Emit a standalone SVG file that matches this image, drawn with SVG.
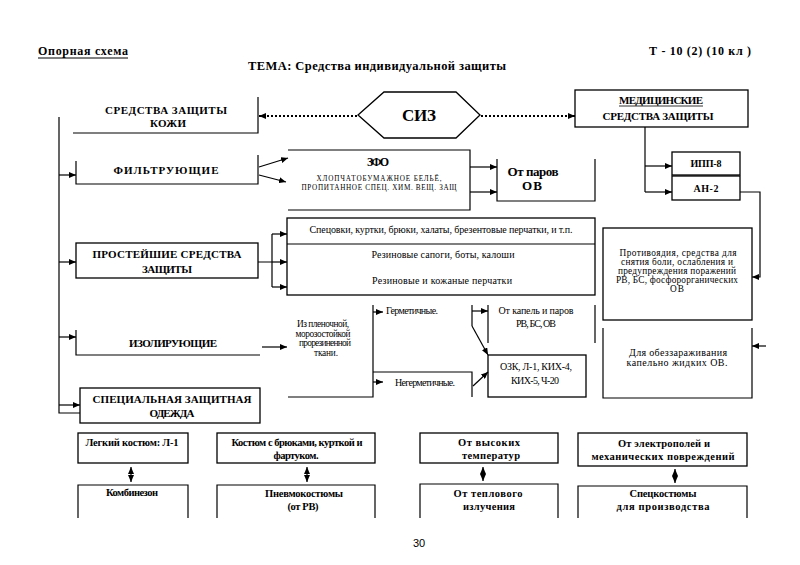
<svg xmlns="http://www.w3.org/2000/svg" width="800" height="565" viewBox="0 0 800 565">
<defs>
<marker id="ah" markerWidth="7" markerHeight="6" refX="7" refY="3" orient="auto-start-reverse" markerUnits="userSpaceOnUse">
<path d="M0,0 L7,3 L0,6 z" fill="#000"/>
</marker>
<style>
.t{font-family:"Liberation Serif","DejaVu Serif","Times New Roman",serif;fill:#000;text-anchor:middle}
.b{font-weight:bold}
.cap{font-size:11px;font-weight:bold}
.sm{font-size:10px}
.xs{font-size:9.3px}
.bt{font-size:10.5px;font-weight:bold}
.bx{fill:none;stroke:#000;stroke-width:1.3}
.ln{fill:none;stroke:#000;stroke-width:1.2}
.ar{fill:none;stroke:#000;stroke-width:1.2;marker-end:url(#ah)}
.da{fill:none;stroke:#000;stroke-width:1.2;marker-start:url(#ah);marker-end:url(#ah)}
.dot{fill:none;stroke:#000;stroke-width:1.8;stroke-dasharray:2,2;marker-end:url(#ah)}
</style>
</defs>
<rect width="800" height="565" fill="#fff"/>

<g id="header">
<text class="t b" x="83" y="55" font-size="12" textLength="90">Опорная схема</text>
<line x1="38" y1="58" x2="128" y2="58" stroke="#000" stroke-width="1"/>
<text class="t b" x="700" y="55" font-size="12" textLength="102">Т - 10 (2) (10 кл )</text>
<text class="t b" x="377" y="70" font-size="12.5" textLength="258">ТЕМА: Средства индивидуальной защиты</text>
</g>

<g id="skin">
<path class="ln" d="M73,133 H258 V97"/>
<text class="t cap" x="166" y="114" textLength="122">СРЕДСТВА ЗАЩИТЫ</text>
<text class="t cap" x="168" y="127" textLength="36">КОЖИ</text>
</g>

<g id="siz">
<polygon class="bx" points="358,115 384,92 456,92 480,115 456,138 384,138"/>
<text class="t b" x="419" y="121" font-size="17" textLength="34">СИЗ</text>
</g>

<g id="medical">
<rect class="bx" x="575" y="90" width="173" height="37"/>
<text class="t cap" x="661" y="104" textLength="84">МЕДИЦИНСКИЕ</text>
<line x1="619" y1="106" x2="703" y2="106" stroke="#000" stroke-width="0.8"/>
<text class="t cap" x="658" y="120" textLength="111">СРЕДСТВА ЗАЩИТЫ</text>
</g>

<g id="ipp8">
<rect class="bx" x="672" y="152" width="68" height="23"/>
<text class="t b" x="706" y="167" font-size="10" textLength="31">ИПП-8</text>
</g>

<g id="an2">
<rect class="bx" x="672" y="176" width="68" height="24"/>
<text class="t b" x="706" y="192" font-size="10" textLength="25">АН-2</text>
</g>

<g id="filtering">
<path class="ln" d="M76,161 V184 H258 V155"/>
<text class="t cap" x="166" y="174" textLength="105">ФИЛЬТРУЮЩИЕ</text>
</g>

<g id="zfo">
<path class="ln" d="M288,150 H470 V210 H288"/>
<text class="t b" x="378" y="166" font-size="12" textLength="22">ЗФО</text>
<text class="t" x="379" y="181" font-size="7.2" textLength="125">ХЛОПЧАТОБУМАЖНОЕ БЕЛЬЁ,</text>
<text class="t" x="379" y="190" font-size="7.2" textLength="155">ПРОПИТАННОЕ СПЕЦ. ХИМ. ВЕЩ. ЗАЩ</text>
</g>

<g id="vapour">
<path class="ln" d="M497,159 V201 H595 V159"/>
<text class="t b" x="533" y="176" font-size="13" textLength="51">От паров</text>
<text class="t b" x="532" y="190" font-size="13" textLength="20">ОВ</text>
</g>

<g id="simple">
<rect class="bx" x="76" y="243" width="182" height="35"/>
<text class="t cap" x="167" y="258" textLength="149">ПРОСТЕЙШИЕ СРЕДСТВА</text>
<text class="t cap" x="167" y="273" textLength="50">ЗАЩИТЫ</text>
</g>

<g id="items">
<rect class="bx" x="287" y="218" width="308" height="77"/>
<line class="ln" x1="287" y1="244" x2="595" y2="244"/>
<text class="t sm" x="441" y="233" textLength="263">Спецовки, куртки, брюки, халаты, брезентовые перчатки, и т.п.</text>
<text class="t sm" x="443" y="258" textLength="143">Резиновые сапоги, боты, калоши</text>
<text class="t sm" x="442" y="284" textLength="140">Резиновые и кожаные перчатки</text>
</g>

<g id="antidote">
<rect class="bx" x="603" y="228" width="149" height="92"/>
<text class="t xs" x="678" y="256" textLength="117">Противоядия, средства для</text>
<text class="t xs" x="677" y="265" textLength="112">снятия боли, ослабления и</text>
<text class="t xs" x="677" y="274" textLength="118">предупреждения поражений</text>
<text class="t xs" x="677" y="283" textLength="122">РВ, БС, фосфорорганических</text>
<text class="t xs" x="677" y="292" textLength="14">ОВ</text>
</g>

<g id="disinfect">
<path class="ln" d="M603,328 V398 H752 V328"/>
<text class="t sm" x="678" y="356" textLength="98">Для обеззараживания</text>
<text class="t sm" x="677" y="366" textLength="101">капельно жидких ОВ.</text>
</g>

<g id="isolating">
<path class="ln" d="M76,330 V355 H260"/>
<text class="t cap" x="173" y="347" textLength="88">ИЗОЛИРУЮЩИЕ</text>
</g>

<g id="material">
<path class="ln" d="M288,397 H373 V305"/>
<text class="t xs" x="323" y="327" textLength="52">Из пленочной,</text>
<text class="t xs" x="323" y="336.5" textLength="55">морозостойкой</text>
<text class="t xs" x="325" y="346" textLength="52">прорезиненной</text>
<text class="t xs" x="326" y="355.5" textLength="24">ткани.</text>
</g>

<g id="hermetic">
<text class="t sm" x="412" y="314" textLength="52">Герметичные.</text>
</g>

<g id="nonhermetic">
<path class="ln" d="M373,372 H472 V397"/>
<text class="t sm" x="425" y="386" textLength="60">Негерметичные.</text>
</g>

<g id="drops">
<path class="ln" d="M488,305 V343 M595,305 V343"/>
<text class="t sm" x="536" y="314" textLength="75">От капель и паров</text>
<text class="t sm" x="536" y="327" textLength="40">РВ, БС, ОВ</text>
</g>

<g id="ozk">
<rect class="bx" x="488" y="355" width="98" height="42"/>
<text class="t sm" x="536" y="370" textLength="72">ОЗК, Л-1, КИХ-4,</text>
<text class="t sm" x="535" y="384" textLength="48">КИХ-5, Ч-20</text>
</g>

<g id="special">
<rect class="bx" x="80" y="388" width="180" height="35"/>
<text class="t cap" x="172" y="403" textLength="159">СПЕЦИАЛЬНАЯ ЗАЩИТНАЯ</text>
<text class="t cap" x="172" y="417" textLength="45">ОДЕЖДА</text>
</g>

<g id="light">
<rect class="bx" x="78" y="433" width="110" height="30"/>
<text class="t bt" x="132" y="446" textLength="93">Легкий костюм: Л-1</text>
</g>
<g id="overalls">
<path class="ln" d="M78,518 V485 H188 V518"/>
<text class="t bt" x="132" y="496" textLength="52">Комбинезон</text>
</g>
<g id="suit">
<rect class="bx" x="217" y="433" width="158" height="30"/>
<text class="t bt" x="297" y="446" textLength="131">Костюм с брюками, курткой и</text>
<text class="t bt" x="296" y="459" textLength="45">фартуком.</text>
</g>
<g id="pneumo">
<path class="ln" d="M217,518 V485 H375 V518"/>
<text class="t bt" x="304" y="497" textLength="78">Пневмокостюмы</text>
<text class="t bt" x="303" y="510" textLength="31">(от РВ)</text>
</g>
<g id="hightemp">
<rect class="bx" x="420" y="433" width="138" height="30"/>
<text class="t bt" x="489" y="446" textLength="62">От высоких</text>
<text class="t bt" x="491" y="459" textLength="58">температур</text>
</g>
<g id="thermal">
<path class="ln" d="M420,518 V484 H558 V518"/>
<text class="t bt" x="488" y="497" textLength="69">От теплового</text>
<text class="t bt" x="489" y="510" textLength="52">излучения</text>
</g>
<g id="electro">
<rect class="bx" x="578" y="433" width="169" height="33"/>
<text class="t bt" x="664" y="447" textLength="92">От электрополей и</text>
<text class="t bt" x="663" y="460" textLength="143">механических повреждений</text>
</g>
<g id="specsuits">
<path class="ln" d="M578,518 V486 H747 V518"/>
<text class="t bt" x="663" y="497" textLength="67">Спецкостюмы</text>
<text class="t bt" x="663" y="510" textLength="93">для производства</text>
</g>

<g id="connectors">
<line class="dot" x1="357" y1="116" x2="259" y2="116"/>
<line class="dot" x1="481" y1="116" x2="575" y2="116"/>
<path class="ln" d="M59,117 V413 H80"/>
<line class="ar" x1="59" y1="175" x2="76" y2="175"/>
<line class="ar" x1="59" y1="262" x2="76" y2="262"/>
<line class="ar" x1="59" y1="337" x2="76" y2="337"/>
<line class="ar" x1="59" y1="405" x2="80" y2="405"/>
<line class="ar" x1="259" y1="167" x2="288" y2="158"/>
<line class="ar" x1="259" y1="175" x2="286" y2="182"/>
<line class="ar" x1="470" y1="167" x2="497" y2="167"/>
<line class="ar" x1="470" y1="192" x2="497" y2="192"/>
<path class="ln" d="M645,127 V192"/>
<line class="ar" x1="645" y1="166" x2="672" y2="166"/>
<line class="ar" x1="645" y1="192" x2="672" y2="192"/>
<path class="ar" d="M740,192 H760 V277 H752"/>
<line class="ar" x1="766" y1="346" x2="752" y2="346"/>
<path class="ln" d="M258,262 H272 M272,234 V287"/>
<line class="ar" x1="272" y1="234" x2="287" y2="234"/>
<line class="ar" x1="272" y1="262" x2="287" y2="262"/>
<line class="ar" x1="272" y1="287" x2="287" y2="287"/>
<line class="ar" x1="262" y1="347" x2="287" y2="347"/>
<line class="ar" x1="373" y1="312" x2="383" y2="312"/>
<line class="ar" x1="373" y1="382" x2="383" y2="382"/>
<path class="ln" d="M472,305 V326"/>
<line class="ar" x1="472" y1="311" x2="488" y2="311"/>
<line class="ar" x1="472" y1="326" x2="488" y2="355"/>
<line class="ar" x1="473" y1="386" x2="488" y2="372"/>
<line class="da" x1="131" y1="467" x2="131" y2="482"/>
<line class="da" x1="307" y1="467" x2="307" y2="482"/>
<line class="da" x1="483" y1="467" x2="483" y2="481"/>
<line class="da" x1="675" y1="469" x2="675" y2="483"/>
</g>

<text x="419" y="547" font-size="11" text-anchor="middle" font-family="'Liberation Sans', Arial, sans-serif">30</text>
</svg>
